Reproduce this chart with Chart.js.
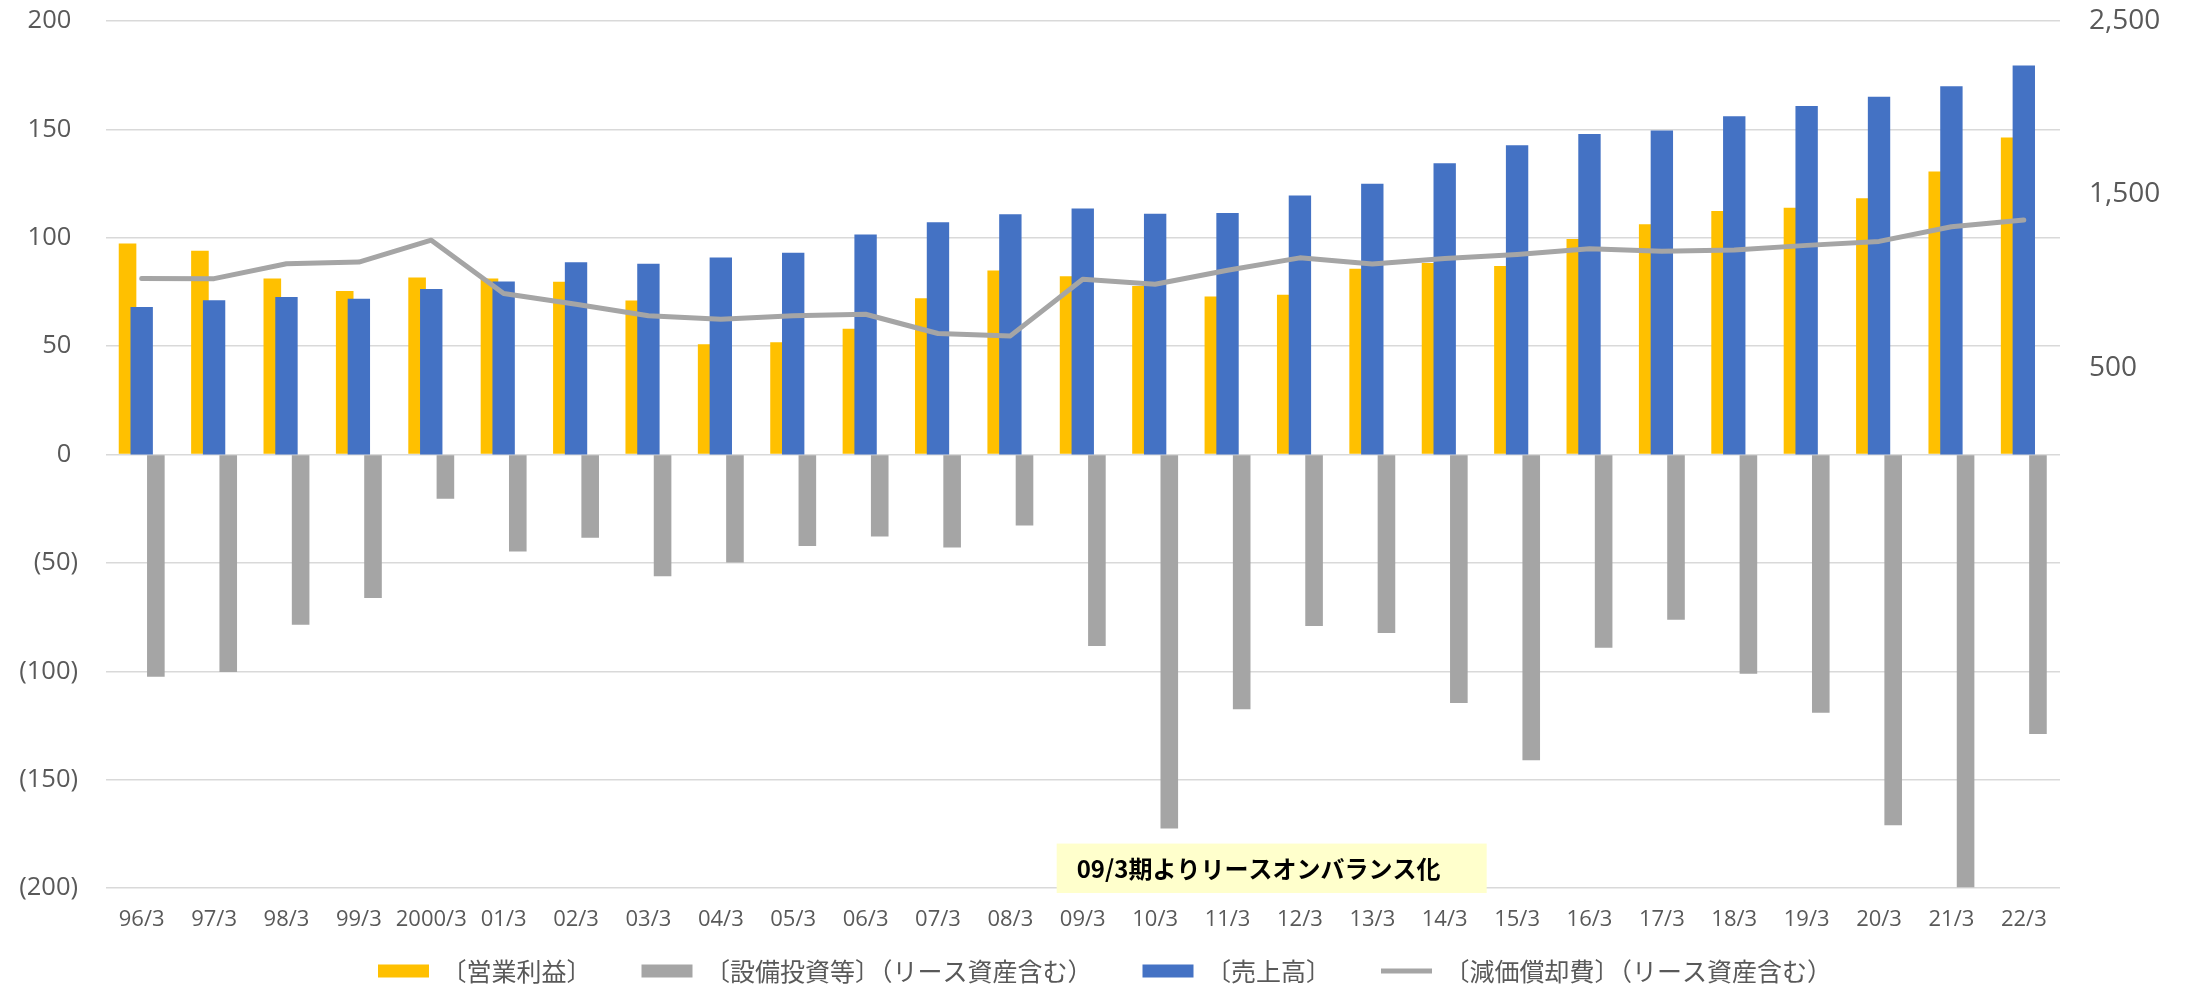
<!DOCTYPE html>
<html>
<head>
<meta charset="utf-8">
<script src="https://cdn.jsdelivr.net/npm/chart.js@4.4.1/dist/chart.umd.min.js"></script>
<style>
  html, body { margin: 0; padding: 0; background: #ffffff; }
  #wrap { width: 2190px; height: 986px; position: relative; }
</style>
</head>
<body>
<div id="wrap"><canvas id="c" width="2190" height="986"></canvas></div>
<script>
// ---- data ----
const categories = ['96/3','97/3','98/3','99/3','2000/3','01/3','02/3','03/3','04/3','05/3','06/3','07/3','08/3',
  '09/3','10/3','11/3','12/3','13/3','14/3','15/3','16/3','17/3','18/3','19/3','20/3','21/3','22/3'];

// left axis series
const operatingProfit = [97.4, 94.0, 81.2, 75.4, 81.7, 81.2, 79.7, 71.1, 50.9, 51.8, 58.0, 72.1, 84.9,
  82.2, 77.7, 72.9, 73.7, 85.7, 88.4, 87.0, 99.4, 106.2, 112.3, 113.8, 118.2, 130.6, 146.3];
const capex = [-102.5, -100.3, -78.6, -66.2, -20.4, -44.8, -38.4, -56.2, -49.8, -42.2, -37.8, -42.9, -32.8,
  -88.4, -172.6, -117.5, -79.1, -82.3, -114.6, -141.1, -89.2, -76.2, -101.2, -119.2, -171.1, -199.6, -128.9];

// right axis series
const sales = [850, 889, 908, 898, 954, 998, 1108, 1100, 1136, 1164, 1269, 1339, 1385,
  1419, 1388, 1393, 1493, 1561, 1680, 1783, 1848, 1868, 1950, 2010, 2063, 2123, 2244];
const depreciation = [1015, 1014, 1100, 1110, 1236, 929, 866, 800, 780, 800, 809, 698, 684,
  1011, 982, 1063, 1134, 1098, 1131, 1154, 1186, 1172, 1179, 1206, 1229, 1313, 1352];

const seriesNames = ['〔営業利益〕', '〔設備投資等〕（リース資産含む）', '〔売上高〕', '〔減価償却費〕（リース資産含む）'];
const leftAxis = { min: -200, max: 200, step: 50 };
const rightAxis = { min: -2500, max: 2500, step: 1000 };
const noteText = '09/3期よりリースオンバランス化';
const noteSpan = { fromIndex: 12.64, toIndex: 18.58, topValue: -179.5 };

const NUM_FONT = "'Open Sans', 'Noto Sans CJK JP', sans-serif";
const JP_FONT = "'Noto Sans CJK JP', 'Noto Sans', sans-serif";
Chart.defaults.font.family = NUM_FONT;
Chart.defaults.color = '#595959';

// let tick labels draw outside their scale boxes (no clipping)
const noClipPlugin = {
  id: 'noClip',
  beforeDraw(chart) {
    Object.values(chart.scales).forEach(s => { s._computeLabelArea = () => undefined; });
  }
};

const notePlugin = {
  id: 'note',
  afterDatasetsDraw(chart) {
    const { ctx, scales: { x, y }, chartArea } = chart;
    const left = x.getPixelForValue(noteSpan.fromIndex);
    const right = x.getPixelForValue(noteSpan.toIndex);
    const top = y.getPixelForValue(noteSpan.topValue);
    const bottom = chartArea.bottom + 5;
    ctx.save();
    ctx.fillStyle = '#FFFFCC';
    ctx.fillRect(left, top, right - left, bottom - top);
    ctx.fillStyle = '#000000';
    ctx.font = "bold 24px " + JP_FONT;
    ctx.textBaseline = 'middle';
    ctx.textAlign = 'left';
    ctx.fillText(noteText, left + 20, (top + bottom) / 2 + 1);
    ctx.restore();
  }
};

const barCommon = { categoryPercentage: 0.782, barPercentage: 0.622, borderWidth: 0, pointStyle: 'rect' };

new Chart(document.getElementById('c'), {
  type: 'bar',
  data: {
    labels: categories,
    datasets: [
      Object.assign({ label: seriesNames[0], data: operatingProfit, backgroundColor: '#FFC000', yAxisID: 'y', order: 2 }, barCommon),
      Object.assign({ label: seriesNames[1], data: capex, backgroundColor: '#A5A5A5', yAxisID: 'y', order: 3 }, barCommon),
      { label: seriesNames[2], data: sales, backgroundColor: '#4472C4', yAxisID: 'y2', order: 1,
        grouped: false, categoryPercentage: 1, barPercentage: 0.309, borderWidth: 0, pointStyle: 'rect' },
      { type: 'line', label: seriesNames[3], data: depreciation, yAxisID: 'y2', order: 0,
        borderColor: '#A5A5A5', backgroundColor: '#A5A5A5', borderWidth: 5, tension: 0,
        pointRadius: 0, pointHoverRadius: 0, borderCapStyle: 'round', borderJoinStyle: 'round', pointStyle: 'line' }
    ]
  },
  options: {
    responsive: false,
    animation: false,
    devicePixelRatio: 1,
    layout: { padding: { left: 20, right: 0, top: 21, bottom: -7.5 } },
    plugins: {
      legend: {
        position: 'bottom',
        labels: {
          usePointStyle: true, pointStyleWidth: 51, boxHeight: 13, padding: 50,
          font: { size: 25, family: JP_FONT }, color: '#595959',
          sort: (a, b) => a.datasetIndex - b.datasetIndex
        }
      },
      tooltip: { enabled: false }
    },
    scales: {
      x: {
        grid: { display: false, drawTicks: false },
        border: { display: false },
        ticks: { font: { size: 22 }, padding: 18.5, maxRotation: 0, autoSkip: false, color: '#595959' },
        afterFit: s => { s.height = 20.5; }
      },
      y: {
        position: 'left', min: leftAxis.min, max: leftAxis.max,
        ticks: { stepSize: leftAxis.step, font: { size: 25.5 }, padding: 27.5, color: '#595959',
          callback: v => v < 0 ? '(' + (-v) + ')' : v + '\u2008' },
        grid: { color: '#D9D9D9', lineWidth: 1.5, drawTicks: false },
        border: { display: false },
        afterFit: s => { s.width = 85.5; s.paddingTop = 0; s.paddingBottom = 0; }
      },
      y2: {
        position: 'right', min: rightAxis.min, max: rightAxis.max,
        ticks: { stepSize: rightAxis.step, font: { size: 28 }, padding: 29, color: '#595959',
          callback: v => v < 0 ? '' : v.toLocaleString('en-US') },
        grid: { display: false, drawOnChartArea: false, drawTicks: false },
        border: { display: false },
        afterFit: s => { s.width = 130; s.paddingTop = 0; s.paddingBottom = 0; }
      }
    }
  },
  plugins: [noClipPlugin, notePlugin]
});
</script>
</body>
</html>
